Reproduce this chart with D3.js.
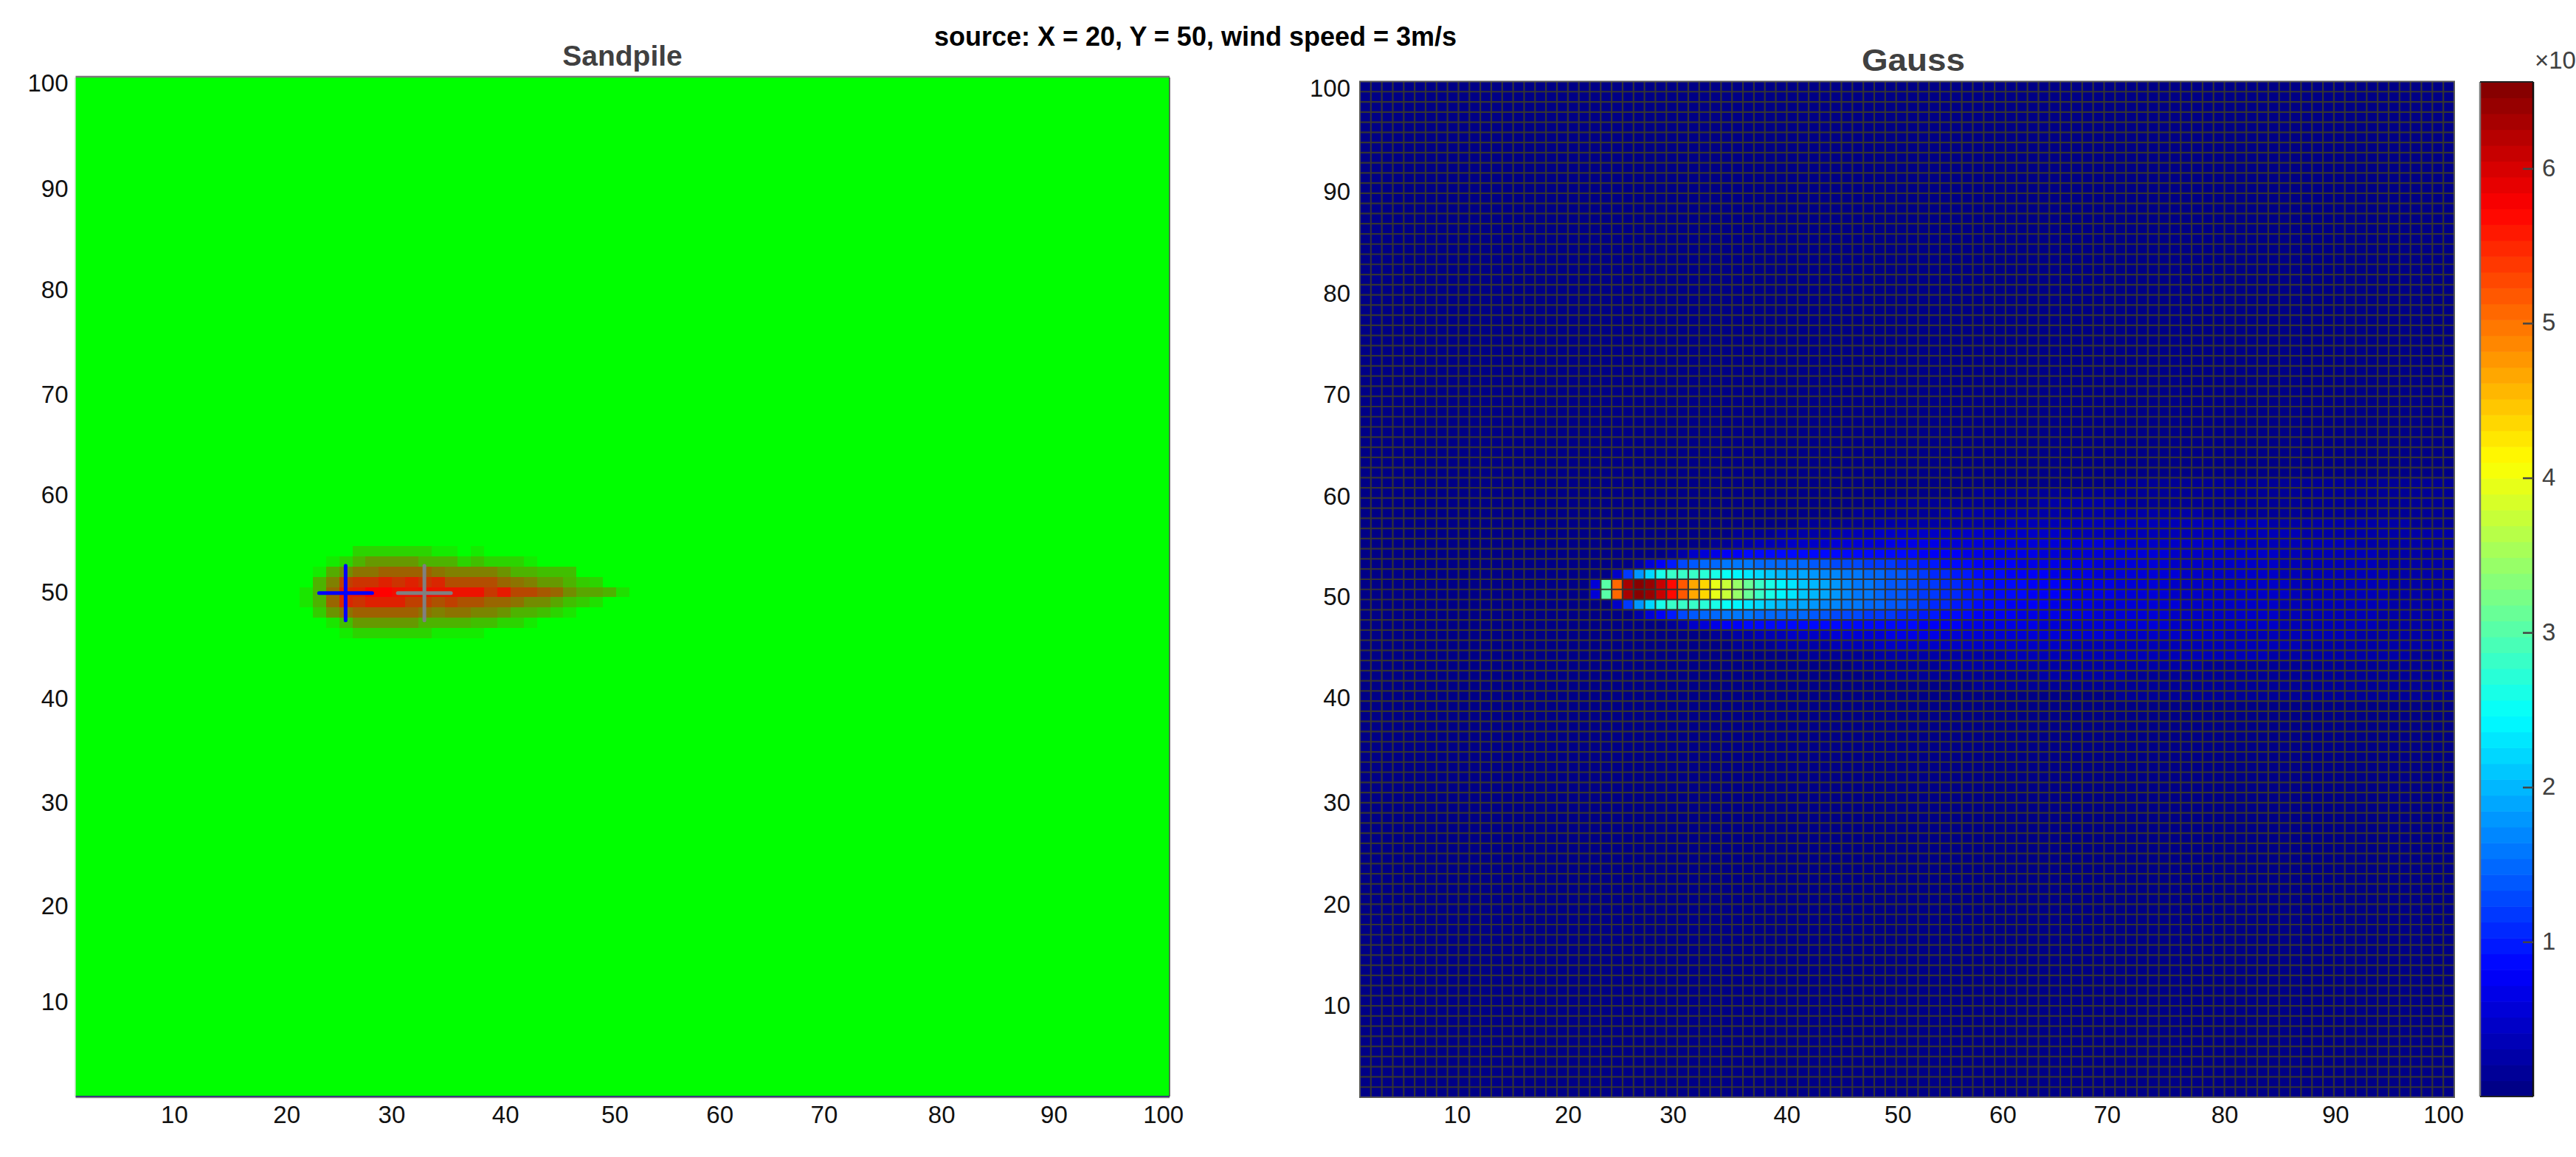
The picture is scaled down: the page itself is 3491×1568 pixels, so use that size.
<!DOCTYPE html>
<html><head><meta charset="utf-8">
<script src="https://cdn.jsdelivr.net/npm/d3@7"></script>
<style>html,body{margin:0;padding:0;background:#fff}svg{display:block}text{font-family:"Liberation Sans",Arial,sans-serif}</style>
</head><body><div id="c"></div>
<script>
const suptitle = "source: X = 20, Y = 50, wind speed = 3m/s";
const leftTitle = "Sandpile", rightTitle = "Gauss";
const axisTicks = [10,20,30,40,50,60,70,80,90,100];
const colorbarTicks = [1,2,3,4,5,6];
const colorbarMax = 6.56;

// Sandpile: 83 bins across, integer rows. Values 0 (green) .. 1 (red). First listed column is bin 17.
const sandBins = 83, sandFirstBin = 17;
const sandRowTops = [55,54,53,52,51,50,49,48,47];
const sand0 = [0,0,0,0,.17,.17,.17,.17,.17,.17,.08,.08,0,.08];
const sand1 = [0,0,.08,.17,.3,.4,.4,.4,.4,.3,.3,.3,.17,.25,.17,.17,.17,.08];
const sand2 = [0,.08,.33,.45,.55,.55,.62,.62,.62,.62,.55,.5,.5,.5,.5,.42,.3,.3,.25,.25,.25];
const sand3 = [0,.3,.5,.75,.8,.8,.87,.8,.87,.8,.85,.7,.7,.7,.7,.6,.55,.5,.4,.4,.3,.2,.17];
const sand4 = [.1,.3,.6,.88,.9,1,1,.95,.93,.95,.93,.93,.93,.93,.78,.9,.72,.72,.65,.6,.45,.35,.35,.3,.12];
const sand5 = [.1,.3,.6,.85,.8,.87,.87,.87,.75,.75,.68,.75,.68,.68,.6,.6,.55,.45,.45,.35,.25,.2,.12];
const sand6 = [0,.2,.42,.55,.62,.62,.62,.62,.62,.55,.5,.55,.55,.48,.48,.42,.3,.3,.25,.17,.1];
const sand7 = [0,0,.1,.25,.4,.4,.4,.4,.4,.3,.3,.3,.3,.25,.25,.17,.17,.08];
const sand8 = [0,0,0,.08,.17,.17,.17,.17,.17,.17,.08,.08,.08,.08];
const sandRows = [sand0,sand1,sand2,sand3,sand4,sand5,sand6,sand7,sand8];
const markerX = [25.68, 32.88], markerY = [50.4, 50.4], markerColors = ["#0000ff","#808080"];

// Gauss: colour-bar level (0..63) per cell, columns from x = 21. Plume is mirrored about y = 51.
const gaussFirstX = 21, gaussAxisY = 51;
const g0 = [0,5,29,49,61,63,62,59,55,50, 45,42,38,36,33,30,27,25,23,22, 20,19,18,17,16,15,15,14,13,13,
  12,11,11,10,10,9,9,8,8,8, 8,7,7,7,7,6,6,6,6,5, 5,5,5,5,4,4,4,4,4,4, 4,4,4,4,4,3,3,3,3,3, 3,3,3,3,2,2,2,2,2,2];
const g1 = [0,0,0,4,11,17,21,25,27,27, 27,26,25,24,23,22,21,20,19,18, 18,17,16,16,15,15,14,14,13,13,
  12,11,10,10,9,9,8,8,8,7, 7,7,7,6,6,6,6,5,5,5, 5,5,5,5,5,4,4,4,4,4, 4,4,4,4,3,3,3,3,3,3, 3,3,3,3,2,2,2,2,2,2];
const g2 = [0,0,0,0,0,2,5,7,9,12, 13,14,14,15,15,15,14,14,14,14, 14,13,13,12,12,12,11,11,11,10,
  10,9,9,8,8,8,7,7,7,7, 6,6,6,6,6,6,6,5,5,5, 5,5,5,5,4,4,4,4,4,4, 4,4,4,4,3,3,3,3,3,3, 3,3,3,2,2,2,2,2,2,2];
const g3 = [0,0,0,0,0,0,0,0,1,2, 4,5,6,7,7,8,8,8,8,8, 8,8,8,8,8,8,8,8,8,8,
  8,7,7,7,7,6,6,6,6,6, 6,6,5,5,5,5,5,5,5,5, 5,5,5,5,4,4,4,4,4,4, 4,4,4,4,3,3,3,3,3,3, 3,3,3,2,2,2,2,2,2,2];
const g4 = [0,0,0,0,0,0,0,0,0,0, 0,0,1,1,2,2,3,3,3,4, 4,4,4,5,5,5,5,5,6,6,
  6,6,6,5,5,5,5,5,5,5, 5,5,5,5,5,5,5,5,5,4, 4,4,4,4,4,4,4,4,4,3, 3,3,3,3,3,3,3,3,3,3, 3,2,2,2,2,2,2,2,2,2];
const g5 = [0,0,0,0,0,0,0,0,0,0, 0,0,0,0,1,1,1,1,2,2, 2,2,2,3,3,3,3,4,4,4,
  4,4,4,4,4,4,4,4,4,4, 4,4,4,4,4,3,3,3,3,3, 3,3,3,3,3,3,3,3,3,3, 3,3,3,3,3,3,2,2,2,2, 2,2,2,2,2,2,2,2,2,2];
const g6 = [0,0,0,0,0,0,0,0,0,0, 0,0,0,0,0,0,0,0,0,0, 1,1,1,1,1,1,1,2,2,2,
  2,2,2,2,2,2,2,2,2,3, 3,3,3,3,3,3,3,3,3,3, 3,3,3,3,3,3,3,3,3,3, 3,3,3,2,2,2,2,2,2,2, 2,2,2,2,2,2,1,1,1,1];
const g7 = [0,0,0,0,0,0,0,0,0,0, 0,0,0,0,0,0,0,0,0,0, 0,0,0,0,0,1,1,1,1,1,
  1,1,1,2,2,2,2,2,2,2, 2,2,2,2,2,2,2,2,2,2, 2,2,2,2,2,2,2,1,1,1, 1,1,1,1,1,1,1,1,1,1, 1,1,1,1,1,1,1,1,1,1];
const g8 = [0,0,0,0,0,0,0,0,0,0, 0,0,0,0,0,0,0,0,0,0, 0,0,0,0,0,0,0,1,1,1,
  1,1,1,1,1,1,1,1,1,1, 1,1,2,2,2,2,2,2,2,2, 1,1,1,1,1,1,1,1,1,1, 1,1,1,1,1,1,1,1,1,1, 1,1,1,1,1,1,1,1,1,1];
const g9 = [0,0,0,0,0,0,0,0,0,0, 0,0,0,0,0,0,0,0,0,0, 0,0,0,0,0,0,0,0,0,0,
  0,0,0,0,0,0,1,1,1,1, 1,1,1,1,1,1,1,1,1,1, 1,1,1,1,1,1,1,1,1,1, 1,1,1,1,1,1,1,1,1,1, 1,1,1,1,1,1,1,1,1,1];
const g10 = [0,0,0,0,0,0,0,0,0,0, 0,0,0,0,0,0,0,0,0,0, 0,0,0,0,0,0,0,0,0,0,
  0,0,0,0,0,0,0,0,0,0, 0,0,0,0,0,0,0,0,0,1, 1,1,1,1,1,1,1,1,1,1, 1,1,1,1,1,1,1,1,1,1, 1,1,1,1,1,1,1,1,1,1];
const gaussRows = [g0,g1,g2,g3,g4,g5,g6,g7,g8,g9,g10];

// Tick labels in the reference sit slightly off their ticks (pixels, in axisTicks order).
const leftXLabelShift  = [0,4,-2,4,4,-2,-9,2,6,6];
const rightXLabelShift = [-2,0,-6,0,2,-4,-11,0,2,0];
const leftYLabelShift  = [-4,4,2,0,-6,0,2,-2,-1,-6];
const rightYLabelShift = [0,0,0,-4,-4,-2,-2,-2,-2,-4];

const W = 3491, H = 1568;
const svg = d3.select("#c").append("svg").attr("width",W).attr("height",H).attr("viewBox",`0 0 ${W} ${H}`);
const tickFill = "#111", titleFill = "#404040", FS = 33;

function jet(level){
  const f = (level+0.5)/64;
  const c = t => Math.round(255*Math.max(0,Math.min(1,t)));
  return d3.rgb(c(1.5-Math.abs(4*f-3)), c(1.5-Math.abs(4*f-2)), c(1.5-Math.abs(4*f-1))).formatHex();
}
const domain = [1,101];

// ---------- Left panel
const xL = d3.scaleLinear(domain,[102.5,1585]);
const yL = d3.scaleLinear(domain,[1486,105]);
const sandX = d3.scaleLinear([0,sandBins],domain);
const sandColor = d3.interpolateRgb("#00ff00","#ff0000");
const L = svg.append("g");
L.append("rect").attr("x",xL(1)).attr("y",yL(101)).attr("width",xL(101)-xL(1)).attr("height",yL(1)-yL(101)).attr("fill","#00ff00");
sandRows.forEach((row,r)=>{
  L.append("g").selectAll("rect").data(row.map((v,i)=>({v,i})).filter(d=>d.v>0)).join("rect")
    .attr("shape-rendering","crispEdges")
    .attr("x",d=>xL(sandX(sandFirstBin+d.i)))
    .attr("width",d=>xL(sandX(sandFirstBin+d.i+1))-xL(sandX(sandFirstBin+d.i)))
    .attr("y",yL(sandRowTops[r])).attr("height",yL(sandRowTops[r]-1)-yL(sandRowTops[r]))
    .attr("fill",d=>sandColor(d.v));
});
markerX.forEach((mx,i)=>{
  const cx=xL(mx), cy=yL(markerY[i]);
  const m = L.append("g").attr("stroke",markerColors[i]).attr("stroke-width",5).attr("stroke-linecap","round");
  m.append("line").attr("x1",cx-36).attr("x2",cx+36).attr("y1",cy).attr("y2",cy);
  m.append("line").attr("x1",cx).attr("x2",cx).attr("y1",cy-37).attr("y2",cy+37);
});
L.append("line").attr("x1",xL(1)).attr("x2",xL(101)).attr("y1",yL(101)-1).attr("y2",yL(101)-1).attr("stroke","#777").attr("stroke-width",2.5);
L.append("line").attr("x1",xL(1)).attr("x2",xL(101)).attr("y1",yL(1)).attr("y2",yL(1)).attr("stroke","#303078").attr("stroke-width",2);
L.append("line").attr("x1",xL(1)).attr("x2",xL(101)).attr("y1",yL(1)+1.5).attr("y2",yL(1)+1.5).attr("stroke","#888").attr("stroke-width",1.5);
L.append("line").attr("x1",xL(1)-.5).attr("x2",xL(1)-.5).attr("y1",yL(101)).attr("y2",yL(1)).attr("stroke","#a8cfa8").attr("stroke-width",1);
L.append("line").attr("x1",xL(101)).attr("x2",xL(101)).attr("y1",yL(101)).attr("y2",yL(1)).attr("stroke","#444").attr("stroke-width",1.5);

// ---------- Right panel
const xR = d3.scaleLinear(domain,[1843,3326]);
const yR = d3.scaleLinear(domain,[1487,110.5]);
const R = svg.append("g");
R.append("rect").attr("x",xR(1)).attr("y",yR(101)).attr("width",xR(101)-xR(1)).attr("height",yR(1)-yR(101)).attr("fill",jet(0));
const gaussCells = [];
gaussRows.forEach((row,k)=>row.forEach((lv,i)=>{
  if(lv>0){ const x=gaussFirstX+i;
    gaussCells.push({x,y:gaussAxisY+k,lv}); gaussCells.push({x,y:gaussAxisY-1-k,lv}); }
}));
R.append("g").selectAll("rect").data(gaussCells).join("rect")
  .attr("x",d=>xR(d.x)).attr("y",d=>yR(d.y+1))
  .attr("width",d=>xR(d.x+1)-xR(d.x)+.5).attr("height",d=>yR(d.y)-yR(d.y+1)+.5)
  .attr("fill",d=>jet(d.lv));
const gridG = R.append("g").attr("stroke","#343434").attr("stroke-width",2.2);
gridG.selectAll(".v").data(d3.range(2,101)).join("line").attr("class","v")
  .attr("x1",d=>xR(d)).attr("x2",d=>xR(d)).attr("y1",yR(101)).attr("y2",yR(1));
gridG.selectAll(".h").data(d3.range(2,101)).join("line").attr("class","h")
  .attr("y1",d=>yR(d)).attr("y2",d=>yR(d)).attr("x1",xR(1)).attr("x2",xR(101));
R.append("rect").attr("x",xR(1)).attr("y",yR(101)).attr("width",xR(101)-xR(1)).attr("height",yR(1)-yR(101))
  .attr("fill","none").attr("stroke","#555").attr("stroke-width",2);

// ---------- Axes (tick marks are hidden by the image in the reference)
function addAxes(x,y,yLabelGap,xShift,yShift,xPad){
  const ax = svg.append("g").attr("transform",`translate(0,${y(1)})`)
    .call(d3.axisBottom(x).tickValues(axisTicks).tickSize(0).tickPadding(xPad));
  ax.select(".domain").remove();
  ax.selectAll("text").attr("font-size",FS).attr("fill",tickFill).attr("font-family",null)
    .attr("dx",(d,i)=>xShift[i]);
  const ay = svg.append("g").attr("transform",`translate(${x(1)},0)`)
    .call(d3.axisLeft(y).tickValues(axisTicks).tickSize(0).tickPadding(yLabelGap));
  ay.select(".domain").remove();
  ay.selectAll("text").attr("font-size",FS).attr("fill",tickFill).attr("font-family",null)
    .attr("transform",(d,i)=>`translate(0,${yShift[i]})`);
}
addAxes(xL,yL,10,leftXLabelShift,leftYLabelShift,13);
addAxes(xR,yR,13,rightXLabelShift,rightYLabelShift,12);

// ---------- Colour bar
const cbX = [3361,3433];
const yC = d3.scaleLinear([0,colorbarMax],[1486,111]);
const C = svg.append("g");
const levels = d3.range(64);
C.selectAll("rect").data(levels).join("rect")
  .attr("x",cbX[0]).attr("width",cbX[1]-cbX[0])
  .attr("y",d=>yC((d+1)/64*colorbarMax)).attr("height",d=>yC(d/64*colorbarMax)-yC((d+1)/64*colorbarMax)+.6)
  .attr("fill",d=>jet(d));
C.append("line").attr("x1",cbX[0]).attr("x2",cbX[0]).attr("y1",111).attr("y2",1486).attr("stroke","#777").attr("stroke-width",2.5);
C.append("line").attr("x1",cbX[1]).attr("x2",cbX[1]).attr("y1",111).attr("y2",1486).attr("stroke","#111").attr("stroke-width",2.5);
C.append("line").attr("x1",cbX[0]).attr("x2",cbX[1]).attr("y1",111).attr("y2",111).attr("stroke","#222").attr("stroke-width",2);
C.append("line").attr("x1",cbX[0]).attr("x2",cbX[1]).attr("y1",1486).attr("y2",1486).attr("stroke","#222").attr("stroke-width",2);
const cax = svg.append("g").attr("transform",`translate(${cbX[1]},0)`)
  .call(d3.axisRight(yC).tickValues(colorbarTicks).tickFormat(d3.format("d")).tickSize(-14).tickPadding(12));
cax.select(".domain").remove();
cax.selectAll("line").attr("stroke","#444").attr("stroke-width",2.5);
cax.selectAll("text").attr("font-size",FS).attr("fill",titleFill).attr("font-family",null).attr("dy","0.3em");
svg.append("text").attr("x",3435).attr("y",93).attr("font-size",FS).attr("fill",titleFill).text("×10");

// ---------- Titles
svg.append("text").attr("x",1620).attr("y",62).attr("text-anchor","middle").attr("font-size",36).attr("font-weight","bold").attr("fill","#000").text(suptitle);
svg.append("text").attr("x",843.5).attr("y",89).attr("text-anchor","middle").attr("font-size",39).attr("font-weight","bold").attr("fill",titleFill).text(leftTitle);
svg.append("text").attr("x",2593).attr("y",96).attr("text-anchor","middle").attr("font-size",42).attr("font-weight","bold").attr("fill",titleFill).attr("textLength",140).attr("lengthAdjust","spacingAndGlyphs").text(rightTitle);
</script></body></html>
